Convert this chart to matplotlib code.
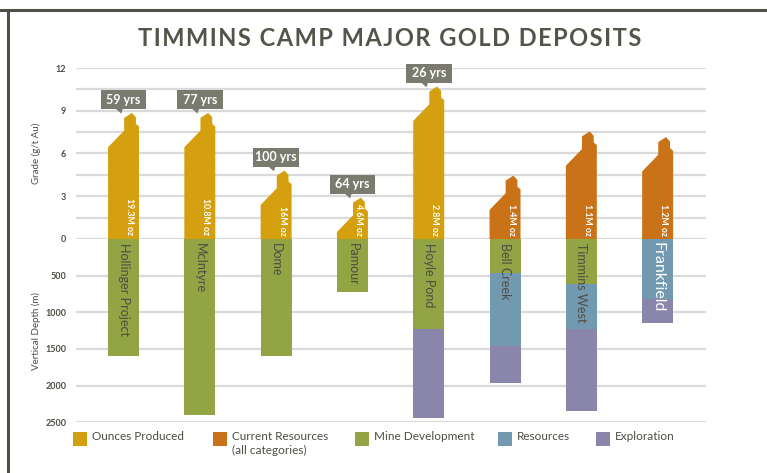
import matplotlib.pyplot as plt
from matplotlib.patches import Polygon, Rectangle
from matplotlib.lines import Line2D

plt.rcParams['font.family'] = ['Lato', 'DejaVu Sans']

# data
deposits = ['Hollinger Project', 'McIntyre', 'Dome', 'Pamour', 'Hoyle Pond',
            'Bell Creek', 'Timmins West', 'Frankfield']
grade = [8.85, 8.85, 4.8, 2.9, 10.7, 4.45, 7.55, 7.15]          # g/t Au (peak)
ounces = ['19.3M oz', '10.8M oz', '16M oz', '4.6M oz', '2.8M oz',
          '1.4M oz', '1.1M oz', '1.2M oz']
produced = [True, True, True, True, True, False, False, False]
mine_life = ['59 yrs', '77 yrs', '100 yrs', '64 yrs', '26 yrs', '', '', '']
mine_dev = [1600, 2400, 1600, 720, 1230, 470, 610, 0]            # m
resources = [0, 0, 0, 0, 0, 990, 620, 820]
exploration = [0, 0, 0, 0, 1210, 500, 1110, 320]

c_prod = '#D4A00F'
c_curr = '#C97217'
c_dev = '#93A444'
c_res = '#7399B1'
c_exp = '#8985AB'
c_box = '#7B7A6E'
c_text = '#4D4D44'
c_grid = '#DADADA'

W, H = 767, 473
fig = plt.figure(figsize=(W / 100, H / 100), dpi=100)

def fx(px):
    return px / W

def fy(py):
    return 1 - py / H

x0, x1 = 76, 706
y_top, y_zero, y_bot = 68, 239, 422.3
ax1 = fig.add_axes([fx(x0), fy(y_zero), fx(x1 - x0), (y_zero - y_top) / H])
ax2 = fig.add_axes([fx(x0), fy(y_bot), fx(x1 - x0), (y_bot - y_zero) / H])

xlim = (-0.623, 7.634)
bw = 0.406

for ax in (ax1, ax2):
    ax.set_xlim(*xlim)
    for s in ax.spines.values():
        s.set_visible(False)
    ax.set_xticks([])
    ax.tick_params(axis='y', length=0, pad=7, labelsize=6.5, labelcolor=c_text)
    ax.patch.set_alpha(0)

ax1.set_ylim(0, 12)
ax2.set_ylim(2500, 0)
ax1.set_yticks([0, 3, 6, 9, 12])
ax2.set_yticks([500, 1000, 1500, 2000, 2500])
for lab in ax1.get_yticklabels() + ax2.get_yticklabels():
    lab.set_fontweight('bold')

for g in [1.5 * i for i in range(9)]:
    ax1.axhline(g, color=c_grid, lw=1.6, zorder=0)
for d in range(500, 3000, 500):
    ax2.axhline(d, color=c_grid, lw=1.6, zorder=0)

ax1.set_ylabel('Grade (g/t Au)', fontsize=7, color=c_text)
ax2.set_ylabel('Vertical Depth (m)', fontsize=7, color=c_text)
ax1.yaxis.set_label_coords(-0.055, 0.5)
ax2.yaxis.set_label_coords(-0.055, 0.5)

# house-shaped grade bars
shape = [(0.0, -2.41), (0.52, -1.24), (0.52, -0.35), (0.77, 0.0),
         (0.9, -0.31), (0.9, -0.77), (1.0, -0.96)]
for i, p in enumerate(grade):
    left = i - bw / 2
    pts = [(left, 0)] + [(left + f * bw, p + d) for f, d in shape] + [(left + bw, 0)]
    col = c_prod if produced[i] else c_curr
    ax1.add_patch(Polygon(pts, closed=True, facecolor=col, edgecolor='none', zorder=2))
    ax1.text(i + 0.08, 0.25, ounces[i], rotation=-90, ha='center', va='bottom',
             fontsize=6.3, color='white', fontweight='bold', zorder=3)
    if mine_life[i]:
        bx_w, bx_h = 0.6, 1.3
        by = p + 0.28
        ax1.add_patch(Rectangle((i - bx_w / 2, by), bx_w, bx_h, facecolor=c_box,
                                edgecolor='none', zorder=3, clip_on=False))
        ax1.add_patch(Polygon([(i - 0.1, by), (i - 0.01, by), (i - 0.03, p - 0.05)],
                              closed=True, facecolor=c_box, edgecolor='none',
                              zorder=3, clip_on=False))
        ax1.text(i, by + bx_h / 2, mine_life[i], ha='center', va='center',
                 fontsize=9, color='white', fontweight='bold', zorder=4, clip_on=False)

# depth bars
xs = list(range(len(deposits)))
ax2.bar(xs, mine_dev, width=bw, color=c_dev, zorder=2)
ax2.bar(xs, resources, width=bw, bottom=mine_dev, color=c_res, zorder=2)
bottom2 = [a + b for a, b in zip(mine_dev, resources)]
ax2.bar(xs, exploration, width=bw, bottom=bottom2, color=c_exp, zorder=2)

for i, name in enumerate(deposits):
    if name == 'Frankfield':
        ax2.text(i, 40, name, rotation=-90, ha='center', va='top',
                 fontsize=11.5, color='white', zorder=3)
    else:
        ax2.text(i, 55, name, rotation=-90, ha='center', va='top',
                 fontsize=9, color=c_text, zorder=3)

# title (hair spaces for letter spacing)
title = 'TIMMINS CAMP MAJOR GOLD DEPOSITS'
fig.text(fx(390), fy(38), '\u200a'.join(title), ha='center',
         va='center', fontsize=17, fontweight='bold', color='#55544A')

# frame lines
fig.add_artist(Line2D([0, 1], [fy(10.5), fy(10.5)], transform=fig.transFigure,
                      color='#4F4F45', lw=2.2))
fig.add_artist(Line2D([fx(8), fx(8)], [fy(10.5), 0], transform=fig.transFigure,
                      color='#4F4F45', lw=2.2))

# legend
leg_items = [(c_prod, 'Ounces Produced', 73), (c_curr, 'Current Resources\n(all categories)', 213),
             (c_dev, 'Mine Development', 355), (c_res, 'Resources', 498),
             (c_exp, 'Exploration', 596)]
for col, lab, px in leg_items:
    fig.add_artist(Rectangle((fx(px), fy(446)), fx(14), 14 / H, transform=fig.transFigure,
                             facecolor=col, edgecolor='none'))
    fig.text(fx(px + 19), fy(431), lab, ha='left', va='top', fontsize=8.5,
             color=c_text, linespacing=1.35)

fig.savefig('out.png', dpi=100)
